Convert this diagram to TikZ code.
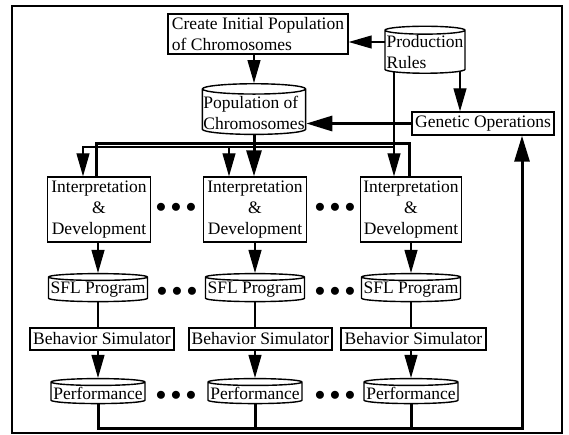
\documentclass[tikz,border=0pt]{standalone}
\usepackage{fontspec}
\setmainfont{Liberation Serif}
\usepackage{tikz}
\usetikzlibrary{arrows.meta,positioning,shapes.geometric,calc,backgrounds}

\begin{document}
\begin{tikzpicture}[x=1pt, y=-1pt,
  every node/.style={font=\fontsize{17.5}{21}\selectfont, line width=1.4pt, inner sep=1pt},
  box/.style={draw, fill=white, rectangle, align=center},
  store/.style={draw, fill=white, cylinder, shape border rotate=90, aspect=0.1, align=left},
  dots/.style={font=\fontsize{21}{21}\selectfont, inner sep=0pt},
  flow/.style={line width=1.2pt, -{Triangle[length=23pt, width=13pt]}},
  link/.style={line width=2pt},
  bus/.style={line width=3pt},
  bigflow/.style={line width=3pt, -{Triangle[length=26pt, width=15pt]}}]
  \useasboundingbox (0,0) rectangle (569,434);

  % Frame
  \draw[line width=1.5pt] (12,6) rectangle (562,433);

  % Top part
  \node[box, align=left, minimum width=180pt, minimum height=40pt] (create) at (258,34) {Create Initial Population\\of Chromosomes};
  \node[store, minimum width=80pt, minimum height=47pt] (prules) at (425,52.5) {Production\\Rules};
  \node[store, minimum width=102pt, minimum height=49pt] (popul) at (254,112.5) {Population of\\Chromosomes};
  \node[box, minimum width=142pt, minimum height=23pt] (genop) at (483,123.5) {Genetic Operations};

  % Interpretation row
  \node[box, minimum width=103pt, minimum height=65pt] (interp1) at (99,209.5) {Interpretation\\\&\\Development};
  \node[box, minimum width=103pt, minimum height=65pt] (interp2) at (255,209.5) {Interpretation\\\&\\Development};
  \node[box, minimum width=101pt, minimum height=65pt] (interp3) at (411,209.5) {Interpretation\\\&\\Development};

  % SFL row
  \node[store, aspect=0.07, minimum width=99pt, minimum height=28pt] (sfl1) at (98,290) {SFL Program};
  \node[store, aspect=0.07, minimum width=99pt, minimum height=28pt] (sfl2) at (255,290) {SFL Program};
  \node[store, aspect=0.07, minimum width=99pt, minimum height=28pt] (sfl3) at (411,290) {SFL Program};

  % Simulator row
  \node[box, minimum width=144pt, minimum height=22pt] (bsim1) at (102,339) {Behavior Simulator};
  \node[box, minimum width=143pt, minimum height=22pt] (bsim2) at (260.5,339) {Behavior Simulator};
  \node[box, minimum width=145pt, minimum height=22pt] (bsim3) at (413.5,339) {Behavior Simulator};

  % Performance row
  \node[store, aspect=0.075, minimum width=94pt, minimum height=25pt] (perf1) at (98,393.5) {Performance};
  \node[store, aspect=0.075, minimum width=94pt, minimum height=25pt] (perf2) at (255,393.5) {Performance};
  \node[store, aspect=0.075, minimum width=94pt, minimum height=25pt] (perf3) at (411,393.5) {Performance};

  % Dots
  \node[dots] (dia) at (176,208) {$\bullet\bullet\bullet$};
  \node[dots] (dib) at (335,208) {$\bullet\bullet\bullet$};
  \node[dots] (dsa) at (177,292) {$\bullet\bullet\bullet$};
  \node[dots] (dsb) at (335,292) {$\bullet\bullet\bullet$};
  \node[dots] (dpa) at (176,396) {$\bullet\bullet\bullet$};
  \node[dots] (dpb) at (335,396) {$\bullet\bullet\bullet$};

  \coordinate (rb) at (394,147);
  \coordinate (pb) at (254,143);
  \coordinate (fb) at (522,428);

  \begin{scope}[on background layer]
    % Rules and population
    \draw[flow] ([yshift=10.5pt]prules.center) -- ([yshift=10.5pt]prules.center -| create.east);
    \draw[flow] (create.south -| popul.north) -- (popul.north);
    \draw[flow] ([xshift=35pt]prules.center) -- ([xshift=35pt]prules.center |- genop.north);
    \draw[bigflow] (genop.west) -- (genop.west -| popul.east);

    % Distribution to the three columns
    \draw[flow] ([xshift=-31pt]prules.center) -- ([xshift=-31pt]prules.center |- interp3.north);
    \draw[flow] (rb) -| ([xshift=-16pt]interp1.north);
    \draw[flow] ([xshift=-26pt]interp2.north |- rb) -- ([xshift=-26pt]interp2.north);
    \draw[bus] ([xshift=-3pt]interp1.north) |- (pb) -| ([xshift=-2pt]interp3.north);
    \draw[bigflow] (popul.center) -- (popul.center |- interp2.north);

    % Columns
    \draw[flow] (sfl1.north |- interp1.south) -- (sfl1.north);
    \draw[flow] (sfl2.north |- interp2.south) -- (sfl2.north);
    \draw[flow] (sfl3.north |- interp3.south) -- (sfl3.north);
    \draw[link] (sfl1.south) -- (sfl1.south |- bsim1.north);
    \draw[link] (sfl2.south) -- (sfl2.south |- bsim2.north);
    \draw[link] (sfl3.south) -- (sfl3.south |- bsim3.north);
    \draw[flow] (perf1.north |- bsim1.south) -- (perf1.north);
    \draw[flow] (perf2.north |- bsim2.south) -- (perf2.north);
    \draw[flow] (perf3.north |- bsim3.south) -- (perf3.north);

    % Feedback
    \draw[bigflow] (perf1.center) |- (fb) -- (fb |- genop.south);
    \draw[bus] (perf2.center) -- (perf2.center |- fb);
    \draw[bus] (perf3.center) -- (perf3.center |- fb);
  \end{scope}
\end{tikzpicture}
\end{document}
